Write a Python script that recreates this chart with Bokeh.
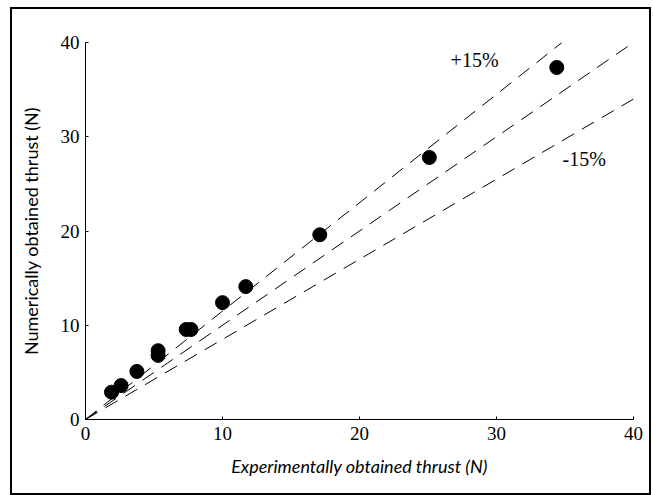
from bokeh.plotting import figure
from bokeh.models import Label, FixedTicker
from bokeh.embed import file_html
from bokeh.resources import INLINE

# Data
exp_thrust = [1.9, 2.6, 3.75, 5.3, 5.3, 7.35, 7.7, 10.0, 11.7, 17.1, 25.1, 34.4]
num_thrust = [2.9, 3.6, 5.1, 6.8, 7.3, 9.55, 9.55, 12.4, 14.1, 19.6, 27.8, 37.35]
ratios = [1.15, 1.0, 0.85]
ratio_labels = ["+15%", "-15%"]
label_x = [28.4, 36.4]
label_y = [38.1, 27.6]
ticks = [0, 10, 20, 30, 40]
axis_max = 40

p = figure(width=641, height=488, output_backend="svg", toolbar_location=None,
           x_range=(0, axis_max), y_range=(0, axis_max),
           min_border_left=73, min_border_right=20, min_border_top=33, min_border_bottom=78)
p.styles = {"border": "2px solid black", "margin-left": "10px", "margin-top": "7px",
            "box-sizing": "border-box"}
p.outline_line_color = None
p.xgrid.visible = False
p.ygrid.visible = False
p.background_fill_color = "white"
p.border_fill_color = "white"

for r in ratios:
    x_end = min(axis_max, axis_max / r)
    p.line([0, x_end], [0, x_end * r], line_color="black", line_width=1, line_dash="14 9")

p.scatter(exp_thrust, num_thrust, size=14, color="black")

for t, lx, ly in zip(ratio_labels, label_x, label_y):
    p.add_layout(Label(x=lx, y=ly, text=t, text_align="center", text_baseline="middle",
                       text_font="Liberation Serif", text_font_size="20px", text_color="black"))

for ax in (p.xaxis[0], p.yaxis[0]):
    ax.ticker = FixedTicker(ticks=ticks)
    ax.minor_tick_line_color = None
    ax.major_tick_in = 3
    ax.major_tick_out = 0
    ax.axis_line_color = "black"
    ax.major_tick_line_color = "black"
    ax.major_label_text_font = "Liberation Serif"
    ax.major_label_text_font_size = "19px"
    ax.major_label_text_color = "black"
    ax.axis_label_text_font = "Lato"
    ax.axis_label_text_font_size = "18px"
    ax.axis_label_text_color = "black"

p.xaxis.axis_label = "Experimentally obtained thrust (N)"
p.xaxis.axis_label_text_font_style = "italic"
p.xaxis.major_label_standoff = 7
p.xaxis.axis_label_standoff = 12
p.yaxis.axis_label = "Numerically obtained thrust (N)"
p.yaxis.axis_label_text_font_style = "normal"
p.yaxis.major_label_standoff = 6
p.yaxis.axis_label_standoff = 16

open("out.html", "w").write(file_html(p, INLINE))
